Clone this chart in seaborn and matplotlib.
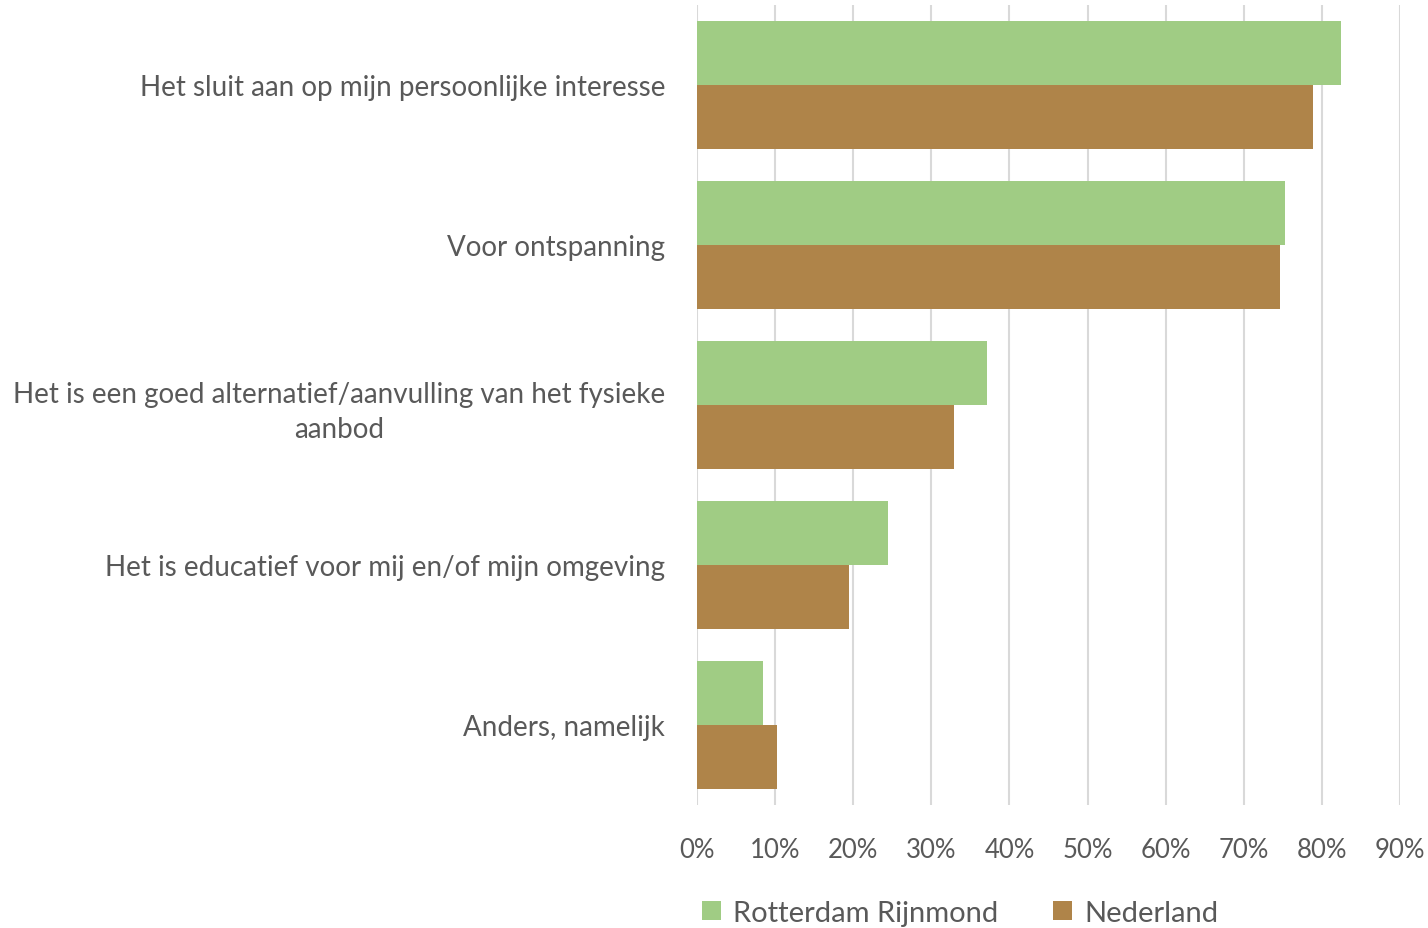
import matplotlib
matplotlib.use("Agg")
import matplotlib.pyplot as plt
import seaborn as sns
import pandas as pd
from matplotlib.patches import Patch
from matplotlib.ticker import MultipleLocator, FuncFormatter

categories = [
    "Het sluit aan op mijn persoonlijke interesse",
    "Voor ontspanning",
    "Het is een goed alternatief/aanvulling van het fysieke\naanbod",
    "Het is educatief voor mij en/of mijn omgeving",
    "Anders, namelijk",
]
series = ["Rotterdam Rijnmond", "Nederland"]
rotterdam = [82.5, 75.3, 37.1, 24.5, 8.5]
nederland = [78.9, 74.6, 32.9, 19.5, 10.2]
colors = ["#A0CC84", "#AF8449"]

df = pd.DataFrame({
    "cat": categories * 2,
    "series": [series[0]] * len(categories) + [series[1]] * len(categories),
    "value": rotterdam + nederland,
})

sns.set_style("white")
plt.rcParams["font.family"] = ["Lato", "DejaVu Sans"]
text_color = "#595959"

fig = plt.figure(figsize=(14.28, 9.29), dpi=100)
ax = fig.add_axes([697/1428, 1 - 806/929, (1400 - 697)/1428, (806 - 6)/929])

sns.barplot(data=df, y="cat", x="value", hue="series", order=categories,
            hue_order=series, palette=colors, orient="h", width=0.8,
            saturation=1, ax=ax, legend=False, linewidth=0)

ax.set_xlim(0, 90)
ax.set_ylim(len(categories) - 0.5, -0.5)
ax.xaxis.set_major_locator(MultipleLocator(10))
ax.xaxis.set_major_formatter(FuncFormatter(lambda v, p: f"{int(round(v))}%"))
ax.grid(axis="x", color="#D9D9D9", linewidth=1.5)
ax.set_axisbelow(True)
for s in ax.spines.values():
    s.set_visible(False)
ax.set_xlabel("")
ax.set_ylabel("")
ax.tick_params(axis="x", length=0, pad=23, labelsize=18.5, labelcolor=text_color)
ax.tick_params(axis="y", length=0, pad=23, labelsize=20, labelcolor=text_color)
for lbl in ax.get_yticklabels():
    lbl.set_multialignment("center")
    lbl.set_linespacing(1.4)

handles = [Patch(facecolor=c, edgecolor="none") for c in colors]
leg = fig.legend(handles, series, loc="center", bbox_to_anchor=(960/1428, 1 - 914/929),
                 ncol=2, frameon=False, fontsize=21, handlelength=0.65, handleheight=0.65,
                 handletextpad=0.4, columnspacing=1.9)
for t in leg.get_texts():
    t.set_color(text_color)

fig.savefig("out.png", dpi=100)
